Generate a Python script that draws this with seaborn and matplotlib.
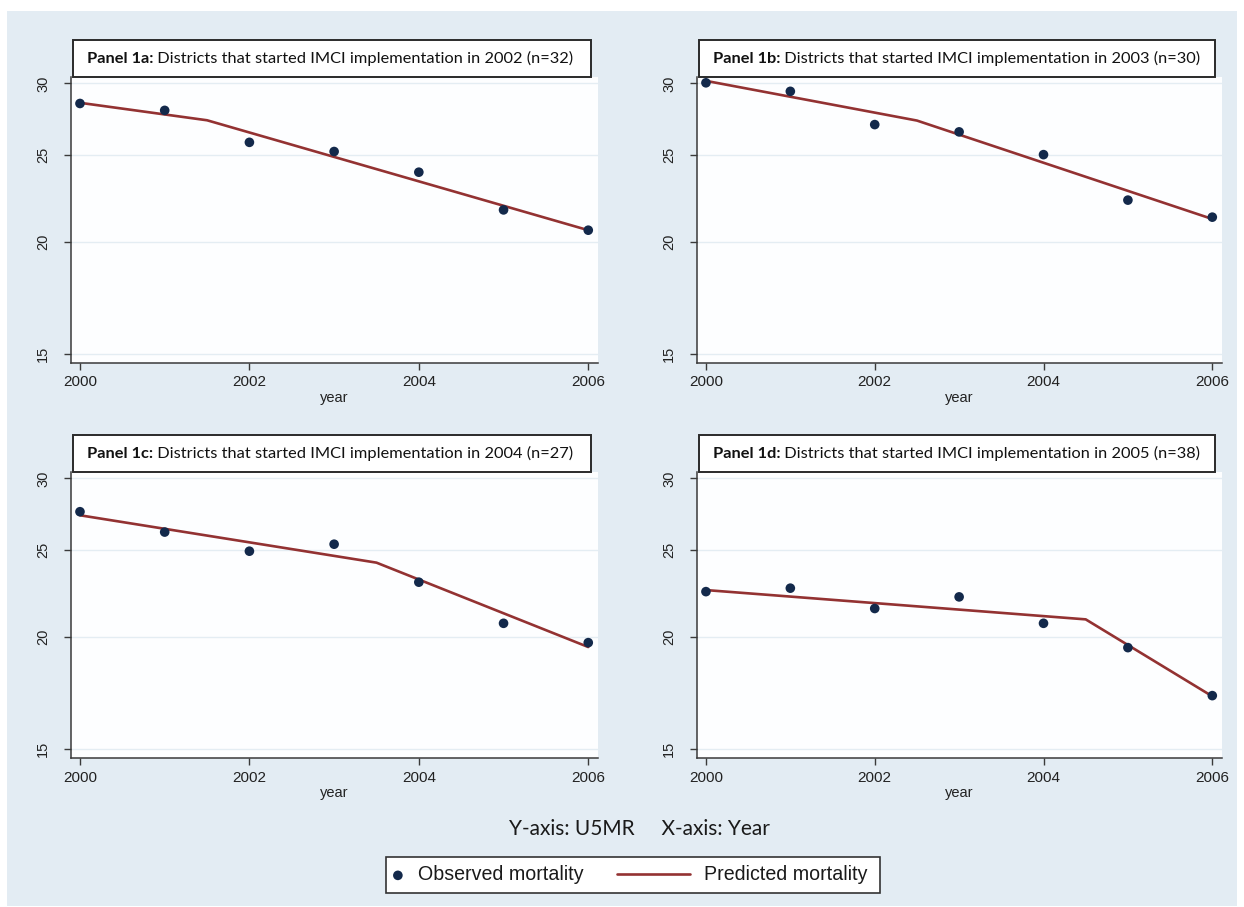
import matplotlib
matplotlib.use("Agg")
import matplotlib.pyplot as plt
import seaborn as sns
import numpy as np
from matplotlib.patches import Rectangle
from matplotlib.ticker import FixedLocator, FixedFormatter, NullLocator

# ---------------- data ----------------
years = [2000, 2001, 2002, 2003, 2004, 2005, 2006]

obs_1a = [28.5, 28.0, 25.8, 25.2, 23.9, 21.7, 20.6]
obs_1b = [30.05, 29.4, 27.0, 26.5, 25.0, 22.25, 21.3]
obs_1c = [27.55, 26.15, 24.9, 25.35, 23.0, 20.7, 19.7]
obs_1d = [22.45, 22.65, 21.5, 22.15, 20.7, 19.45, 17.2]

pred_x_1a = [2000, 2001.5, 2006]
pred_y_1a = [28.55, 27.3, 20.6]
pred_x_1b = [2000, 2002.5, 2006]
pred_y_1b = [30.2, 27.28, 21.2]
pred_x_1c = [2000, 2003.5, 2006]
pred_y_1c = [27.3, 24.18, 19.48]
pred_x_1d = [2000, 2004.5, 2006]
pred_y_1d = [22.54, 20.91, 17.17]

panel_tags = ["Panel 1a:", "Panel 1b:", "Panel 1c:", "Panel 1d:"]
panel_titles = [
    "Districts that started IMCI implementation in 2002 (n=32)",
    "Districts that started IMCI implementation in 2003 (n=30)",
    "Districts that started IMCI implementation in 2004 (n=27)",
    "Districts that started IMCI implementation in 2005 (n=38)",
]
y_ticks = [15, 20, 25, 30]
x_ticks = [2000, 2002, 2004, 2006]

# ---------------- style ----------------
sns.set_theme(style="white")
plt.rcParams["font.family"] = ["Liberation Sans", "DejaVu Sans"]

NAVY = "#13294b"
MAROON = "#933232"
BG = "#e3ecf3"
SPINE = "#3a3a3a"

W, H = 1244, 907
fig = plt.figure(figsize=(W / 100, H / 100), dpi=100, facecolor="white")

# outer light-blue region
fig.patches.append(Rectangle((7 / W, 1 - 906 / H), (1237 - 7) / W, (906 - 11) / H,
                             transform=fig.transFigure, facecolor=BG, edgecolor="none",
                             zorder=-10))

def px_axes(left, top, right, bottom):
    return [left / W, 1 - bottom / H, (right - left) / W, (bottom - top) / H]

positions = [
    px_axes(71, 77, 598, 363),
    px_axes(697, 77, 1222, 363),
    px_axes(71, 472, 598, 758),
    px_axes(697, 472, 1222, 758),
]

obs_list = [obs_1a, obs_1b, obs_1c, obs_1d]
pred_list = [(pred_x_1a, pred_y_1a), (pred_x_1b, pred_y_1b),
             (pred_x_1c, pred_y_1c), (pred_x_1d, pred_y_1d)]

axes = []
for i, pos in enumerate(positions):
    ax = fig.add_axes(pos)
    ax.set_zorder(1)
    axes.append(ax)
    ax.set_facecolor("#fdfeff")
    px, py = pred_list[i]
    sns.lineplot(x=px, y=py, ax=ax, color=MAROON, linewidth=1.9,
                 label="Predicted mortality", zorder=2)
    sns.scatterplot(x=years, y=obs_list[i], ax=ax, color=NAVY, s=48,
                    edgecolor="none", label="Observed mortality", zorder=3)
    if ax.get_legend() is not None:
        ax.get_legend().remove()

    ax.set_yscale("log")
    ax.set_ylim(14.66, 30.5)
    ax.set_xlim(1999.894, 2006.115)
    ax.yaxis.set_major_locator(FixedLocator(y_ticks))
    ax.yaxis.set_major_formatter(FixedFormatter([str(t) for t in y_ticks]))
    ax.yaxis.set_minor_locator(NullLocator())
    ax.set_xticks(x_ticks)
    ax.set_xticklabels([str(t) for t in x_ticks])

    ax.yaxis.grid(True, color="#e4edf3", linewidth=1.0)
    ax.xaxis.grid(False)
    for s in ["top", "right"]:
        ax.spines[s].set_visible(False)
    for s in ["left", "bottom"]:
        ax.spines[s].set_color(SPINE)
        ax.spines[s].set_linewidth(1.1)

    ax.tick_params(axis="y", which="major", left=True, length=5, width=1, color=SPINE,
                   pad=10, labelsize=10.5, labelcolor="#222222", labelrotation=90)
    for lab in ax.get_yticklabels():
        lab.set_va("center")
    ax.tick_params(axis="x", which="major", bottom=True, length=5, width=1, color=SPINE,
                   pad=4, labelsize=11, labelcolor="#222222")
    ax.set_xlabel("year", fontsize=10.5, color="#222222", labelpad=1)
    ax.set_ylabel("")

    # title box
    ax.add_patch(Rectangle((0.004, 1.0), 0.983, 0.129, transform=ax.transAxes,
                           facecolor="white", edgecolor="#2a2a2a", linewidth=1.4,
                           clip_on=False, zorder=5))
    t1 = ax.text(0.030, 1.0645, panel_tags[i], transform=ax.transAxes,
                 fontsize=11.8, fontweight="bold", family=["Lato", "DejaVu Sans"],
                 ha="left", va="center", color="#111111", zorder=6)
    ax.annotate(" " + panel_titles[i], xy=(1.0, 0.5), xycoords=t1,
                ha="left", va="center", fontsize=11.8, family=["Lato", "DejaVu Sans"],
                color="#111111", zorder=6, annotation_clip=False)

# axis description text
fig.text(639 / W, 1 - 829 / H, "Y-axis: U5MR     X-axis: Year", ha="center", va="center",
         fontsize=15, family=["Lato", "DejaVu Sans"], color="#1a1a1a")

# legend
handles, labels = axes[0].get_legend_handles_labels()
hmap = dict(zip(labels, handles))

fig.patches.append(Rectangle((386 / W, 1 - 893 / H), (880 - 386) / W, (893 - 857) / H,
                             transform=fig.transFigure, facecolor="white",
                             edgecolor="#333333", linewidth=1.2, zorder=1))

leg1 = fig.legend([hmap["Observed mortality"]], ["Observed mortality"],
                  loc="center left", bbox_to_anchor=(392 / W, 1 - 875 / H),
                  frameon=False, borderpad=0, borderaxespad=0, handlelength=0.6,
                  handletextpad=0.73, fontsize=14.1, markerscale=1.0)
leg2 = fig.legend([hmap["Predicted mortality"]], ["Predicted mortality"],
                  loc="center left", bbox_to_anchor=(617 / W, 1 - 875 / H),
                  frameon=False, borderpad=0, borderaxespad=0, handlelength=3.72,
                  handletextpad=0.71, fontsize=14.1)
for lg in (leg1, leg2):
    lg.set_zorder(3)
    for t in lg.get_texts():
        t.set_color("#1a1a1a")

fig.savefig("out.png", dpi=100, facecolor="white")
